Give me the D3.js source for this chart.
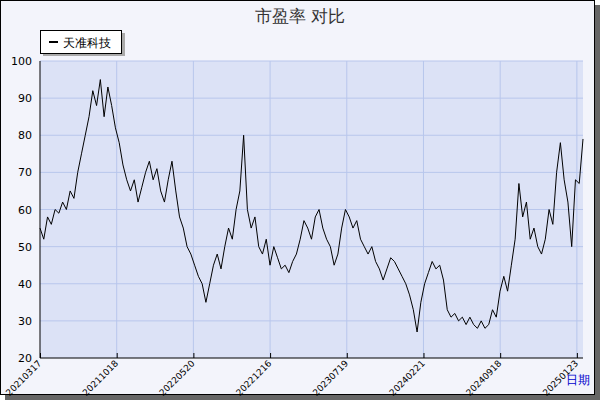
<!DOCTYPE html>
<html><head><meta charset="utf-8">
<script src="https://cdn.jsdelivr.net/npm/d3@7"></script>
<style>body{margin:0;background:#fff}text{font-family:"DejaVu Sans",sans-serif}</style>
</head><body><div id="chart"></div>
<script>
const title = "市盈率  对比";
const seriesName = "天准科技";
const tickLabels = ["20210317","20211018","20220520","20221216","20230719","20240221","20240918","20250123"];
const peValues = [55,52,58,56,60,59,62,60,65,63,70,75,80,85,92,88,95,85,93,88,82,78,72,68,65,68,62,66,70,73,68,71,65,62,68,73,65,58,55,50,48,45,42,40,35,40,45,48,44,50,55,52,60,65,80,60,55,58,50,48,52,45,50,47,44,45,43,46,48,52,57,55,52,58,60,55,52,50,45,48,55,60,58,55,57,52,50,48,50,46,44,41,44,47,46,44,42,40,37,33,27,35,40,43,46,44,45,41,33,31,32,30,31,29,31,29,28,30,28,29,33,31,38,42,38,45,52,67,58,62,52,55,50,48,52,60,56,70,78,68,62,50,68,67,79];

const W = 600, H = 400, m = {l: 40, r: 17, t: 61, b: 42};
const svg = d3.select('#chart').append('svg').attr('width', W).attr('height', H);
svg.append('rect').attr('x', 5).attr('y', 5).attr('width', W - 5).attr('height', H - 5).attr('fill', '#666');
svg.append('rect').attr('x', 0.5).attr('y', 0.5).attr('width', W - 6).attr('height', H - 6).attr('fill', '#f3f4fb').attr('stroke', '#000');

const span = 7.08;
const x = d3.scaleLinear().domain([0, span]).range([m.l, W - m.r]);
const y = d3.scaleLinear().domain([20, 100]).range([H - m.b, m.t]);
const xi = d3.scaleLinear().domain([0, peValues.length - 1]).range([0, span]);

svg.append('rect').attr('x', x(0)).attr('y', y(100)).attr('width', x(span) - x(0)).attr('height', y(20) - y(100)).attr('fill', '#dce2f6');

const g = svg.append('g');
g.selectAll('.hg').data(d3.range(30, 101, 10)).join('line')
  .attr('x1', x(0)).attr('x2', x(span)).attr('y1', d => y(d)).attr('y2', d => y(d))
  .attr('stroke', '#b8c6ec');
g.selectAll('.vg').data(d3.range(1, tickLabels.length)).join('line')
  .attr('x1', d => x(d)).attr('x2', d => x(d)).attr('y1', y(100)).attr('y2', y(20))
  .attr('stroke', '#b8c6ec');

svg.append('g').attr('transform', `translate(0,${y(20)})`)
  .call(d3.axisBottom(x).tickValues(d3.range(tickLabels.length)).tickSize(-5).tickFormat(''))
  .call(a => a.select('.domain').remove())
  .call(a => a.selectAll('line').attr('stroke', '#000'));
svg.append('line').attr('x1', x(0)).attr('x2', x(span)).attr('y1', y(20)).attr('y2', y(20)).attr('stroke', '#000');
svg.append('line').attr('x1', x(0)).attr('x2', x(0)).attr('y1', y(100)).attr('y2', y(20)).attr('stroke', '#000');

svg.append('g').attr('transform', `translate(${x(0)},0)`)
  .call(d3.axisLeft(y).tickValues(d3.range(20, 101, 10)).tickSize(0).tickPadding(8))
  .call(a => a.select('.domain').remove())
  .call(a => a.selectAll('text').attr('font-size', 11).attr('fill', '#000'));

svg.selectAll('.xl').data(tickLabels).join('text')
  .attr('transform', (d, i) => `translate(${x(i) + 2},${y(20) + 6}) rotate(-45)`)
  .attr('text-anchor', 'end').attr('font-size', 9).text(d => d);

svg.append('path').datum(peValues)
  .attr('fill', 'none').attr('stroke', '#000').attr('stroke-width', 1)
  .attr('d', d3.line().x((d, i) => x(xi(i))).y(d => y(d)));

svg.append('text').attr('x', 300).attr('y', 22).attr('text-anchor', 'middle').attr('font-size', 17).attr('fill', '#333').text(title);
svg.append('text').attr('x', W - 22).attr('y', 384).attr('text-anchor', 'middle').attr('font-size', 12).attr('fill', '#0000cc').text('日期');

svg.append('rect').attr('x', 43).attr('y', 33).attr('width', 82).attr('height', 23).attr('fill', '#aaa');
svg.append('rect').attr('x', 40.5).attr('y', 30.5).attr('width', 81).attr('height', 23).attr('fill', '#fff').attr('stroke', '#000');
svg.append('line').attr('x1', 49).attr('x2', 58).attr('y1', 42).attr('y2', 42).attr('stroke', '#000').attr('stroke-width', 2);
svg.append('text').attr('x', 63).attr('y', 47).attr('font-size', 12).text(seriesName);
</script></body></html>
